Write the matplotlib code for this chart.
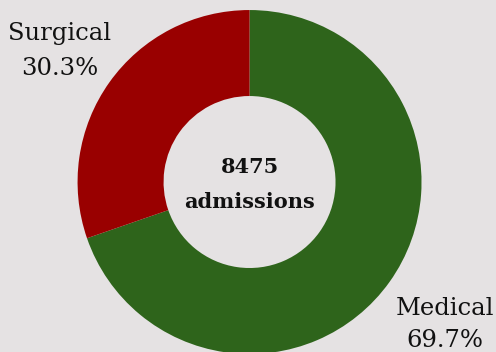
import matplotlib
matplotlib.use("Agg")
import matplotlib.pyplot as plt

# admissions by type
categories = ["Medical", "Surgical"]
shares = [69.7, 30.3]
total_admissions = 8475
colors = ["#2e641b", "#990000"]

fig = plt.figure(figsize=(4.96, 3.52), dpi=100)
fig.patch.set_facecolor("#e5e2e3")
ax = fig.add_axes([0, 0, 1, 1])
ax.set_facecolor("#e5e2e3")

# ring, clockwise from 12 o'clock
ax.pie(shares, colors=colors, startangle=90, counterclock=False,
       radius=1.0, wedgeprops=dict(width=0.5, linewidth=0))

ax.set_aspect("equal")
ax.set_xlim(-1.451, 1.433)
ax.set_ylim(-0.988, 1.058)
ax.axis("off")

serif = "DejaVu Serif"
label_kw = dict(ha="center", va="baseline", fontsize=17.5, family=serif, color="#111111")

# slice labels: name on top, share below
ax.text(-1.102, 0.826, categories[1], **label_kw)
ax.text(-1.102, 0.622, f"{shares[1]}%", **label_kw)
ax.text(1.137, -0.772, categories[0], **label_kw)
ax.text(1.137, -0.958, f"{shares[0]}%", **label_kw)

# total in the hole
center_kw = dict(ha="center", va="baseline", fontsize=15, family=serif,
                 weight="bold", color="#111111")
ax.text(0.0, 0.052, f"{total_admissions}", **center_kw)
ax.text(0.0, -0.151, "admissions", **center_kw)

fig.savefig("out.png", dpi=100, facecolor=fig.get_facecolor())
